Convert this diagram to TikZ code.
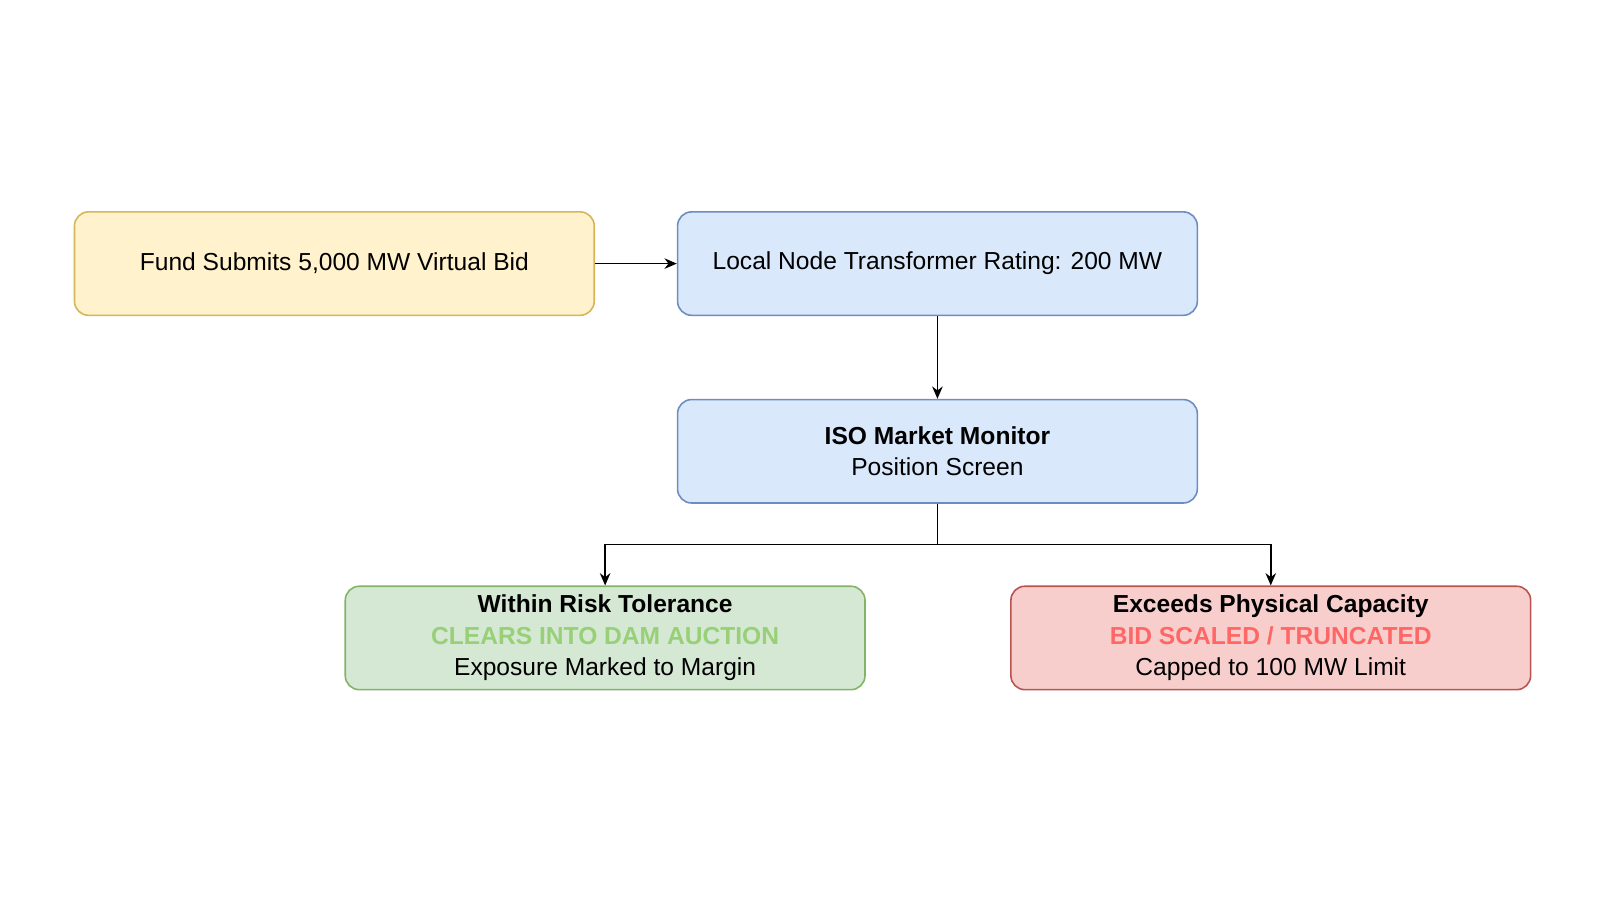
\documentclass[tikz,border=0pt]{standalone}
\usepackage{fontspec}
\setmainfont{Liberation Sans}
\usetikzlibrary{arrows.meta}
\definecolor{yfill}{HTML}{FFF2CC}\definecolor{ydraw}{HTML}{D6B656}
\definecolor{bfill}{HTML}{DAE8FC}\definecolor{bdraw}{HTML}{6C8EBF}
\definecolor{gfill}{HTML}{D5E8D4}\definecolor{gdraw}{HTML}{82B366}
\definecolor{rfill}{HTML}{F8CECC}\definecolor{rdraw}{HTML}{B85450}
\definecolor{gtext}{HTML}{97D077}\definecolor{rtext}{HTML}{FF6666}
\tikzset{
  box/.style={draw=#1draw,fill=#1fill,rounded corners=8pt,line width=0.9pt,
    minimum width=10.4cm,minimum height=2.07cm,align=center,
    font=\fontsize{14}{18}\selectfont},
  flow/.style={-{Stealth[length=7pt,width=6pt]},line width=0.9pt}
}
\begin{document}
\begin{tikzpicture}[x=0.02052cm,y=-0.02052cm]
    \useasboundingbox (0,0) rectangle (1560,877.5);
    \node [box=y] (bid) at (326,257) {Fund Submits 5,000 MW Virtual Bid};
    \node [box=b] (node) at (914,257) {Local Node Transformer Rating: 200 MW};
    \node [box=b] (iso) at (914,440) {\textbf{ISO Market Monitor}\\Position Screen};
    \node [box=g] (ok) at (590,622) {\textbf{Within Risk Tolerance}\\\textcolor{gtext}{\textbf{CLEARS INTO DAM AUCTION}}\\Exposure Marked to Margin};
    \node [box=r] (cap) at (1239,622) {\textbf{Exceeds Physical Capacity}\\\textcolor{rtext}{\textbf{BID SCALED / TRUNCATED}}\\Capped to 100 MW Limit};

    \coordinate (split) at (914,531);
    \draw [flow] (bid) -- (node);
    \draw [flow] (node) -- (iso);
    \draw [flow] (iso) -- (split) -| (ok);
    \draw [flow] (iso) -- (split) -| (cap);
\end{tikzpicture}
\end{document}
